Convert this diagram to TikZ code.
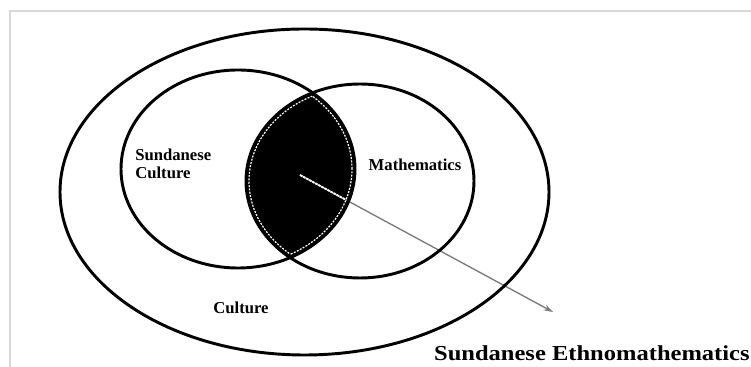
\documentclass[tikz,border=0pt]{standalone}
\usepackage{fontspec}
\setmainfont{Liberation Serif}
\usepackage{tikz}
\usetikzlibrary{positioning,arrows.meta,calc}
\definecolor{framegray}{HTML}{D9D9D9}
\definecolor{arrowgray}{HTML}{7A7A7A}

\begin{document}
\begin{tikzpicture}[x=0.75pt, y=0.75pt,
    setline/.style={line width=2.2pt, black},
    lensdots/.style={white, line width=0.9pt, dash pattern=on 1.5pt off 1pt},
    setlabel/.style={font=\fontsize{12.5}{13.5}\selectfont\bfseries, inner sep=0pt, align=left},
    ethnolabel/.style={font=\fontsize{16}{18}\selectfont\bfseries, inner sep=0pt, xscale=1.15, transform shape},
    pointer/.style={-{Stealth[length=7pt, width=4.5pt]}, line width=1pt, arrowgray},
]
\useasboundingbox (0,0) rectangle (751,367);
\draw[framegray, line width=1.3pt] (10,0) -- (10,356) -- (751,356);

\coordinate (culture) at (304.5,175);
\coordinate (sunda) at (238,198);
\coordinate (math) at (360,186);

% lens
\begin{scope}
  \clip (sunda) ellipse [x radius=117, y radius=99];
  \fill[black] (math) ellipse [x radius=114, y radius=97];
\end{scope}
\begin{scope}
  \clip (sunda) ellipse [x radius=114, y radius=96];
  \draw[lensdots] (math) ellipse [x radius=111, y radius=94];
\end{scope}
\begin{scope}
  \clip (math) ellipse [x radius=111, y radius=94];
  \draw[lensdots] (sunda) ellipse [x radius=114, y radius=96];
\end{scope}

\coordinate (ethnostart) at (300,192);
\coordinate (ethnotip) at (553,55);
\draw[pointer] (ethnostart) -- (ethnotip);
\begin{scope}
  \clip (sunda) ellipse [x radius=113, y radius=95];
  \clip (math) ellipse [x radius=110, y radius=93];
  \draw[white, line width=1.4pt, dash pattern=on 2pt off 0.6pt] (ethnostart) -- (ethnotip);
\end{scope}

\draw[setline] (culture) ellipse [x radius=244.5, y radius=163];
\draw[setline] (sunda) ellipse [x radius=117, y radius=99];
\draw[setline] (math) ellipse [x radius=114, y radius=97];

\node[setlabel, anchor=west] (sundalabel) at (135,203) {Sundanese\\Culture};
\node[setlabel] (mathlabel) at (415,202) {Mathematics};
\node[setlabel] (culturelabel) at (241,59) {Culture};
\node[ethnolabel, anchor=east] (ethnolabel) at (750,14) {Sundanese Ethnomathematics};
\end{tikzpicture}
\end{document}
